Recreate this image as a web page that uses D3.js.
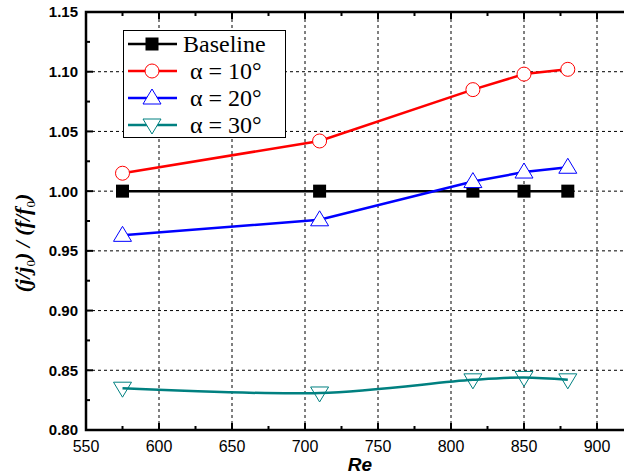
<!DOCTYPE html>
<html><head><meta charset="utf-8">
<script src="https://cdn.jsdelivr.net/npm/d3@7/dist/d3.min.js"></script>
<style>body{margin:0;background:#fff}svg{display:block}</style>
</head><body>
<script>
const reValues = [575, 710, 815, 850, 880];
const baseline = [1.000, 1.000, 1.000, 1.000, 1.000];
const alpha10 = [1.015, 1.042, 1.085, 1.098, 1.102];
const alpha20 = [0.963, 0.976, 1.008, 1.016, 1.020];
const alpha30 = [0.835, 0.831, 0.842, 0.844, 0.842];
const xTicks = [550, 600, 650, 700, 750, 800, 850, 900];
const yTicks = [0.80, 0.85, 0.90, 0.95, 1.00, 1.05, 1.10, 1.15];
const seriesNames = ["Baseline", "α = 10°", "α = 20°", "α = 30°"];

const W = 624, H = 475;
const svg = d3.select("body").append("svg").attr("width", W).attr("height", H);
const x = d3.scaleLinear().domain([550, 925]).range([86, 633.5]);
const y = d3.scaleLinear().domain([0.80, 1.15]).range([430, 12]);

// gridlines
const g = svg.append("g");
xTicks.filter(v => v > 550).forEach(v => {
  g.append("line").attr("x1", x(v)).attr("x2", x(v)).attr("y1", y(0.80)).attr("y2", y(1.15))
    .attr("stroke", "#000").attr("stroke-width", 1).attr("stroke-dasharray", "3,3");
});
yTicks.filter(v => v > 0.8 && v < 1.15).forEach(v => {
  g.append("line").attr("x1", x(550)).attr("x2", x(925)).attr("y1", y(v)).attr("y2", y(v))
    .attr("stroke", "#000").attr("stroke-width", 1).attr("stroke-dasharray", "3,3");
});

// ticks (inside)
const ax = svg.append("g").attr("transform", `translate(0,${y(0.80)})`);
d3.range(575, 926, 25).forEach(v => {
  const major = xTicks.includes(v);
  ax.append("line").attr("x1", x(v)).attr("x2", x(v)).attr("y1", 0).attr("y2", major ? -7 : -4)
    .attr("stroke", "#000").attr("stroke-width", 2);
});
const at = svg.append("g").attr("transform", `translate(0,${y(1.15)})`);
d3.range(575, 926, 25).forEach(v => {
  const major = xTicks.includes(v);
  at.append("line").attr("x1", x(v)).attr("x2", x(v)).attr("y1", 0).attr("y2", major ? 7 : 4)
    .attr("stroke", "#000").attr("stroke-width", 2);
});
const ay = svg.append("g");
d3.range(0.825, 1.151, 0.025).forEach(v => {
  const major = Math.abs(Math.round(v * 20) - v * 20) < 1e-6;
  ay.append("line").attr("x1", x(550)).attr("x2", x(550) + (major ? 7 : 4)).attr("y1", y(v)).attr("y2", y(v))
    .attr("stroke", "#000").attr("stroke-width", 2);
});
svg.append("rect").attr("x", x(550)).attr("y", y(1.15)).attr("width", x(925) - x(550)).attr("height", y(0.8) - y(1.15))
  .attr("fill", "none").attr("stroke", "#000").attr("stroke-width", 2.5);

// tick labels
svg.append("g").selectAll("text").data(xTicks).join("text")
  .attr("x", d => x(d)).attr("y", 452).attr("text-anchor", "middle")
  .attr("font-family", "Arial, 'Liberation Sans', sans-serif").attr("font-size", 16)
  .text(d => d);
svg.append("g").selectAll("text").data(yTicks).join("text")
  .attr("x", 78).attr("y", d => y(d)).attr("dy", "0.36em").attr("text-anchor", "end")
  .attr("font-family", "Arial, 'Liberation Sans', sans-serif").attr("font-size", 15).attr("font-weight", "bold")
  .text(d => d.toFixed(2));

// axis titles
svg.append("text").attr("x", 360).attr("y", 471).attr("text-anchor", "middle")
  .attr("font-family", "Arial, 'Liberation Sans', sans-serif").attr("font-size", 19)
  .attr("font-weight", "bold").attr("font-style", "italic").text("Re");
const yt = svg.append("text").attr("transform", "translate(30,243) rotate(-90)").attr("text-anchor", "middle")
  .attr("font-family", "'Liberation Serif', 'Times New Roman', serif").attr("font-size", 22)
  .attr("font-weight", "bold").attr("font-style", "italic");
yt.append("tspan").text("(j/j");
yt.append("tspan").attr("font-size", 13).attr("font-style", "normal").attr("font-weight", "normal").attr("dy", 5).text("0");
yt.append("tspan").attr("dy", -5).text(") / (f/f");
yt.append("tspan").attr("font-size", 13).attr("font-style", "normal").attr("font-weight", "normal").attr("dy", 5).text("0");
yt.append("tspan").attr("dy", -5).text(")");

// series
const straight = d3.line().x((d, i) => x(reValues[i])).y(d => y(d));
const smooth = d3.line().x((d, i) => x(reValues[i])).y(d => y(d)).curve(d3.curveCatmullRom.alpha(0.5));

function marker(sel, type, color, cx, cy) {
  if (type === "square") {
    sel.append("rect").attr("x", cx - 6.5).attr("y", cy - 6.5).attr("width", 13).attr("height", 13).attr("fill", "#000");
  } else if (type === "circle") {
    sel.append("circle").attr("cx", cx).attr("cy", cy).attr("r", 7).attr("fill", "#fff").attr("stroke", color).attr("stroke-width", 1);
  } else if (type === "up") {
    sel.append("path").attr("d", `M${cx},${cy - 9}L${cx + 9},${cy + 6}L${cx - 9},${cy + 6}Z`).attr("fill", "#fff").attr("stroke", color).attr("stroke-width", 1);
  } else {
    sel.append("path").attr("d", `M${cx},${cy + 9}L${cx + 9},${cy - 6}L${cx - 9},${cy - 6}Z`).attr("fill", "#fff").attr("stroke", color).attr("stroke-width", 1);
  }
}

const series = [
  {vals: baseline, color: "#000000", type: "square", gen: straight},
  {vals: alpha10, color: "#ff0000", type: "circle", gen: straight},
  {vals: alpha20, color: "#0000ff", type: "up", gen: straight},
  {vals: alpha30, color: "#008080", type: "down", gen: smooth}
];
const sg = svg.append("g");
series.forEach(s => {
  if (s.type === "down") {
    reValues.forEach((r, i) => marker(sg, s.type, s.color, x(r), y(s.vals[i])));
    sg.append("path").attr("d", s.gen(s.vals)).attr("fill", "none").attr("stroke", s.color).attr("stroke-width", 2.5);
  } else {
    sg.append("path").attr("d", s.gen(s.vals)).attr("fill", "none").attr("stroke", s.color).attr("stroke-width", 2.5);
    reValues.forEach((r, i) => marker(sg, s.type, s.color, x(r), y(s.vals[i])));
  }
});

// legend
const lg = svg.append("g");
lg.append("rect").attr("x", 123.5).attr("y", 30.5).attr("width", 162).attr("height", 107)
  .attr("fill", "#fff").attr("stroke", "#000").attr("stroke-width", 1);
const rowsY = [44, 71, 98, 125];
series.forEach((s, i) => {
  const cy = rowsY[i];
  lg.append("line").attr("x1", 128).attr("x2", 177).attr("y1", cy).attr("y2", cy).attr("stroke", s.color).attr("stroke-width", 2.5);
  marker(lg, s.type, s.color, 152, cy);
  lg.append("text").attr("x", i === 0 ? 183 : 190).attr("y", cy + 7.5)
    .attr("font-family", "'Liberation Serif', 'Times New Roman', serif").attr("font-size", 24)
    .text(seriesNames[i]);
});
</script>
</body></html>
